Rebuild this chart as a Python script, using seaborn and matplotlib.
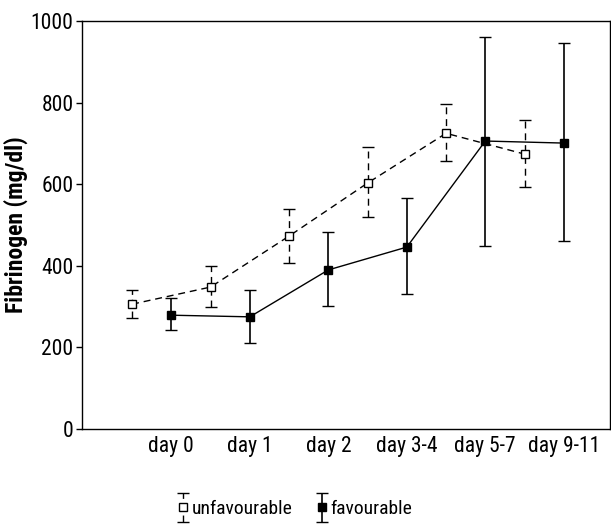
import numpy as np
import pandas as pd
import matplotlib
matplotlib.use("Agg")
import matplotlib.pyplot as plt
from matplotlib.container import ErrorbarContainer
from matplotlib.legend_handler import HandlerErrorbar
import seaborn as sns

# ── Données ────────────────────────────────────────────────────────
days = ["day 0", "day 1", "day 2", "day 3-4", "day 5-7", "day 9-11"]

unfav_mean = [306, 348, 473, 603, 725, 674]
unfav_low = [272, 299, 407, 520, 657, 593]
unfav_high = [341, 400, 539, 691, 797, 757]

fav_mean = [279, 275, 390, 446, 706, 701]
fav_low = [243, 211, 301, 331, 449, 461]
fav_high = [321, 341, 483, 566, 961, 946]

sns.set_style("ticks")
plt.rcParams["font.family"] = ["Roboto Condensed", "Roboto", "DejaVu Sans"]
plt.rcParams["text.color"] = "black"
plt.rcParams["axes.labelcolor"] = "black"
plt.rcParams["xtick.color"] = "black"
plt.rcParams["ytick.color"] = "black"

pos = np.arange(len(days))
df = pd.concat([
    pd.DataFrame({"x": pos - 0.5, "y": unfav_mean, "group": "unfavourable"}),
    pd.DataFrame({"x": pos, "y": fav_mean, "group": "favourable"}),
])

fig = plt.figure(figsize=(6.11, 5.28), dpi=100)
ax = fig.add_axes([0.134, 0.1875, 0.864, 0.7725])

# lignes
sns.lineplot(
    data=df[df["group"] == "unfavourable"], x="x", y="y",
    color="black", linewidth=1.0, ax=ax, legend=False
)
ax.lines[-1].set_linestyle((0, (5, 3.5)))
sns.lineplot(
    data=df[df["group"] == "favourable"], x="x", y="y",
    color="black", linewidth=1.0, ax=ax, legend=False
)

# barres d'erreur
u_err = [np.subtract(unfav_mean, unfav_low), np.subtract(unfav_high, unfav_mean)]
f_err = [np.subtract(fav_mean, fav_low), np.subtract(fav_high, fav_mean)]

eb_u = ax.errorbar(
    pos - 0.5, unfav_mean, yerr=u_err, fmt="s", color="black",
    mfc="white", mec="black", ms=6, mew=1.0,
    elinewidth=1.0, capsize=4, capthick=1.0, zorder=5
)
eb_u[2][0].set_linestyle((0, (5, 3.5)))

eb_f = ax.errorbar(
    pos, fav_mean, yerr=f_err, fmt="s", color="black",
    mfc="black", mec="black", ms=6, mew=1.0,
    elinewidth=1.2, capsize=4, capthick=1.2, zorder=5
)

ax.set_xlim(-1.14, 5.586)
ax.set_ylim(0, 1000)
ax.set_xticks(pos)
ax.set_xticklabels(days, fontsize=15.5)
ax.set_yticks([0, 200, 400, 600, 800, 1000])
ax.tick_params(axis="x", length=0, pad=5)
ax.tick_params(axis="y", labelsize=15.5, length=4, width=1, direction="out", pad=2)
ax.set_xlabel("")
ax.set_ylabel("Fibrinogen (mg/dl)", fontsize=17, fontweight="bold", labelpad=2)

for s in ax.spines.values():
    s.set_linewidth(1.0)
    s.set_color("black")

fig.legend(
    [eb_u, eb_f], ["unfavourable", "favourable"],
    loc="center", bbox_to_anchor=(295 / 611, 1 - 509 / 528),
    ncol=2, frameon=False, fontsize=14,
    handlelength=0.6, handletextpad=0.15, columnspacing=1.2,
    handler_map={ErrorbarContainer: HandlerErrorbar(xerr_size=0.5, yerr_size=0.75)}
)

plt.savefig("out.png", dpi=100)
plt.close()
